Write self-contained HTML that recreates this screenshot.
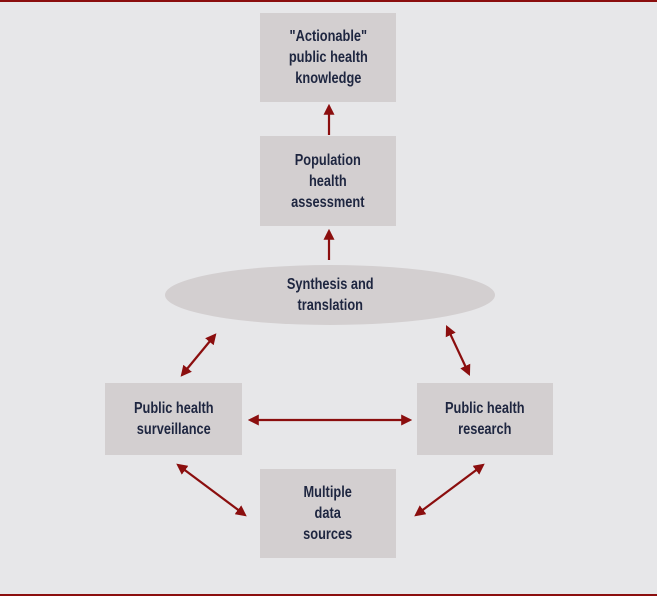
<!DOCTYPE html>
<html><head><style>
html,body{margin:0;padding:0}
body{width:657px;height:596px;background:#e7e7e9;position:relative;overflow:hidden;font-family:"Liberation Sans",sans-serif}
.b{position:absolute;background:#d3cfd0;display:flex;align-items:center;justify-content:center}
.b span{display:block;color:#1e2640;font-weight:bold;font-size:16px;line-height:21px;text-align:center;transform:scaleX(0.8);white-space:nowrap}
</style></head><body>
<div style="position:absolute;left:0;top:0;width:657px;height:2px;background:#8b0e0e"></div>
<div style="position:absolute;left:0;top:594px;width:657px;height:2px;background:#8b0e0e"></div>
<svg width="657" height="596" style="position:absolute;left:0;top:0">
<defs><marker id="a" viewBox="0 0 10 10" refX="8" refY="5" markerWidth="5" markerHeight="5" orient="auto-start-reverse"><path d="M0,0L10,5L0,10z" fill="#8b0e0e"/></marker></defs>
<ellipse cx="330" cy="295" rx="165" ry="30" fill="#d3cfd0"/>
<g stroke="#8b0e0e" stroke-width="2.2" fill="none">
<line x1="329" y1="135" x2="329" y2="106" marker-end="url(#a)"/>
<line x1="329" y1="260" x2="329" y2="231" marker-end="url(#a)"/>
<line x1="182" y1="375" x2="215" y2="335" marker-start="url(#a)" marker-end="url(#a)"/>
<line x1="469" y1="374" x2="447" y2="327" marker-start="url(#a)" marker-end="url(#a)"/>
<line x1="250" y1="420" x2="410" y2="420" marker-start="url(#a)" marker-end="url(#a)"/>
<line x1="178" y1="465" x2="245" y2="515" marker-start="url(#a)" marker-end="url(#a)"/>
<line x1="483" y1="465" x2="416" y2="515" marker-start="url(#a)" marker-end="url(#a)"/>
</g>
</svg>
<div class="b" style="left:165px;top:266px;width:330px;height:58px;background:none"><span>Synthesis and<br>translation</span></div>
<div class="b" style="left:260px;top:13px;width:136px;height:89px"><span>"Actionable"<br>public health<br>knowledge</span></div>
<div class="b" style="left:260px;top:136px;width:136px;height:90px"><span>Population<br>health<br>assessment</span></div>
<div class="b" style="left:105px;top:383px;width:137px;height:72px"><span>Public health<br>surveillance</span></div>
<div class="b" style="left:417px;top:383px;width:136px;height:72px"><span>Public health<br>research</span></div>
<div class="b" style="left:260px;top:469px;width:136px;height:89px"><span>Multiple<br>data<br>sources</span></div>
</body></html>
